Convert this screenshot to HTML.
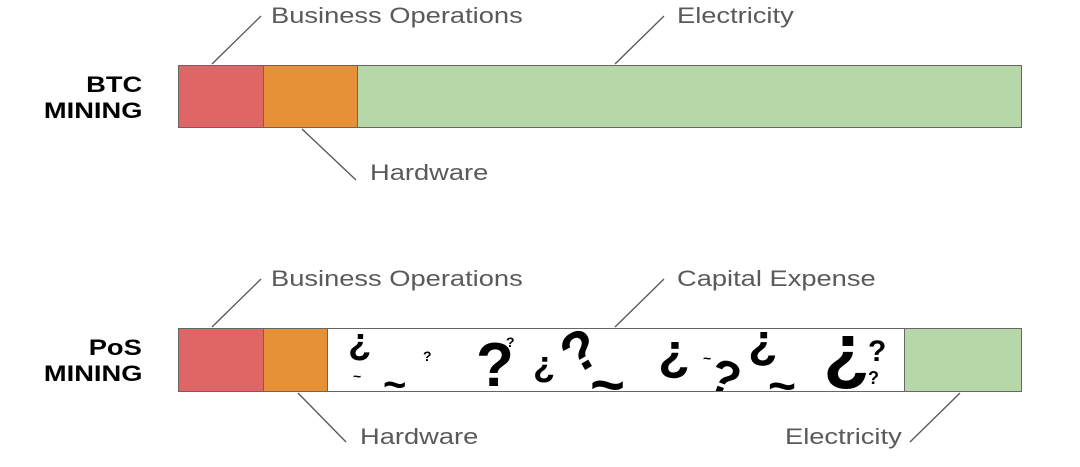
<!DOCTYPE html>
<html><head><style>
body{margin:0;width:1080px;height:467px;background:#fff;position:relative;overflow:hidden;font-family:"Liberation Sans",sans-serif}
.lbl{position:absolute;font-size:22px;color:#5a5a5a;white-space:nowrap;line-height:1;transform:scaleX(1.24);transform-origin:0 0}
.b{position:absolute;left:0;width:142px;font-size:22px;font-weight:bold;text-align:right;line-height:26px;color:#000}
.b span{display:inline-block;transform:scaleX(1.24);transform-origin:100% 0}
.q{position:absolute;font-weight:bold;color:#000;line-height:1}
</style></head><body>
<div class="b" style="top:72px"><span>BTC</span><br><span>MINING</span></div>
<div class="b" style="top:335px"><span>PoS</span><br><span>MINING</span></div>

<div style="position:absolute;left:178px;top:65px;width:844px;height:63px;border:1px solid #666;box-sizing:border-box;display:flex">
<div style="width:84px;background:#e06666;border-right:1px solid #666"></div>
<div style="width:93px;background:#e69138;border-right:1px solid #666"></div>
<div style="flex:1;background:#b6d7a8"></div></div>

<div style="position:absolute;left:178px;top:328px;width:844px;height:64px;border:1px solid #666;box-sizing:border-box;display:flex">
<div style="width:84px;background:#e06666;border-right:1px solid #666"></div>
<div style="width:63px;background:#e69138;border-right:1px solid #666"></div>
<div style="width:576px;background:#fff;position:relative;overflow:hidden">
<span class="q" style="left:20px;top:-2px;font-size:38px;transform:rotate(180deg)">?</span>
<span class="q" style="left:95px;top:20px;font-size:14px">?</span>
<span class="q" style="left:25px;top:40px;font-size:14px">~</span>
<span class="q" style="left:55px;top:36px;font-size:40px">~</span>
<span class="q" style="left:148px;top:6px;font-size:62px">?</span>
<span class="q" style="left:178px;top:6px;font-size:14px">?</span>
<span class="q" style="left:205px;top:22px;font-size:36px;transform:rotate(180deg)">?</span>
<span class="q" style="left:235px;top:-6px;font-size:56px;transform:rotate(-30deg)">?</span>
<span class="q" style="left:262px;top:26px;font-size:60px">~</span>
<span class="q" style="left:330px;top:4px;font-size:52px;transform:rotate(180deg)">?</span>
<span class="q" style="left:375px;top:22px;font-size:14px">~</span>
<span class="q" style="left:382px;top:26px;font-size:48px;transform:rotate(20deg)">?</span>
<span class="q" style="left:420px;top:-6px;font-size:48px;transform:rotate(180deg)">?</span>
<span class="q" style="left:440px;top:34px;font-size:48px">~</span>
<span class="q" style="left:495px;top:-6px;font-size:76px;transform:rotate(180deg)">?</span>
<span class="q" style="left:540px;top:8px;font-size:30px">?</span>
<span class="q" style="left:540px;top:40px;font-size:18px">?</span>
</div>
<div style="flex:1;background:#b6d7a8;border-left:1px solid #666"></div></div>

<svg width="1080" height="467" style="position:absolute;left:0;top:0" stroke="#555" stroke-width="1.3">
<line x1="212" y1="64" x2="261" y2="16"/>
<line x1="615" y1="64" x2="664" y2="16"/>
<line x1="302" y1="129" x2="356" y2="180"/>
<line x1="212" y1="327" x2="261" y2="279"/>
<line x1="615" y1="327" x2="664" y2="279"/>
<line x1="298" y1="393" x2="346" y2="442"/>
<line x1="910" y1="442" x2="960" y2="393"/>
</svg>

<div class="lbl" style="left:271px;top:5px">Business Operations</div>
<div class="lbl" style="left:677px;top:5px">Electricity</div>
<div class="lbl" style="left:370px;top:162px">Hardware</div>
<div class="lbl" style="left:271px;top:268px">Business Operations</div>
<div class="lbl" style="left:677px;top:268px">Capital Expense</div>
<div class="lbl" style="left:360px;top:426px">Hardware</div>
<div class="lbl" style="left:785px;top:426px">Electricity</div>
</body></html>
